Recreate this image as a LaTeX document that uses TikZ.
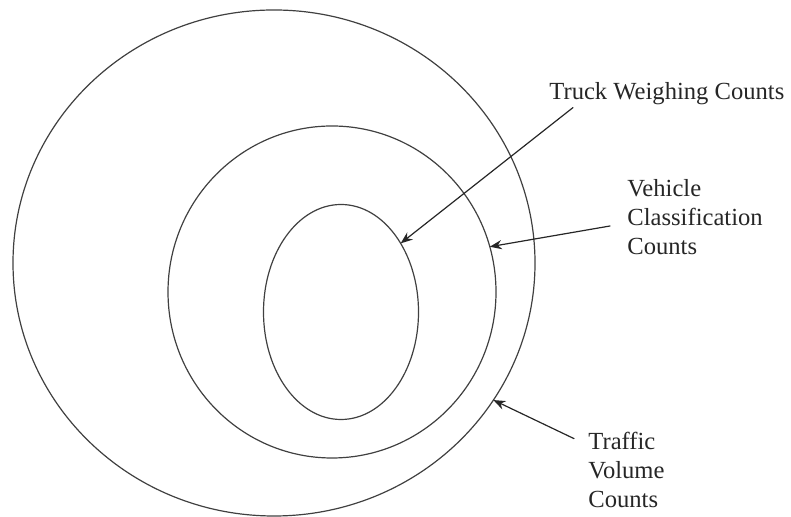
\documentclass[tikz,border=0pt]{standalone}
\usepackage{fontspec}
\setmainfont{Liberation Serif}
\usetikzlibrary{shapes.geometric,arrows.meta}
\tikzset{
	ring/.style={ellipse, draw=black!75, line width=0.6pt, inner sep=0pt, outer sep=0pt},
	lbl/.style={anchor=west, align=left, inner sep=0pt, text=black!85, font=\fontsize{12.3}{14.3}\selectfont},
	pointer/.style={->, draw=black!85, line width=0.6pt},
}
\begin{document}
\begin{tikzpicture}[x=0.5pt, y=0.5pt, >={Stealth[length=6pt,width=4.6pt]}, line join=round, line cap=round]
	\useasboundingbox (0,0) rectangle (791,517);
	% the three rings
	\node[ring, minimum width=261pt, minimum height=253pt] (outer) at (274,254) {};
	\node[ring, minimum width=164pt, minimum height=166pt] (middle) at (332,225) {};
	\node[ring, minimum width=77.5pt, minimum height=107.5pt] (inner) at (341,205) {};
	
	% labels
	\node[lbl] (twc) at (549,423) {Truck Weighing Counts};
	\node[lbl] (vcc) at (627,300) {Vehicle\\Classification\\Counts};
	\node[lbl] (tvc) at (588,47) {Traffic\\Volume\\Counts};
	
	\draw[pointer] ([xshift=12pt,yshift=-1pt]twc.south west)--(inner.49);
	\draw[pointer] ([xshift=-8.5pt,yshift=-4.5pt]vcc.west)--(middle.16);
	\draw[pointer] ([xshift=-7pt,yshift=-3.2pt]tvc.north west)--(outer.-32);
\end{tikzpicture}
\end{document}
